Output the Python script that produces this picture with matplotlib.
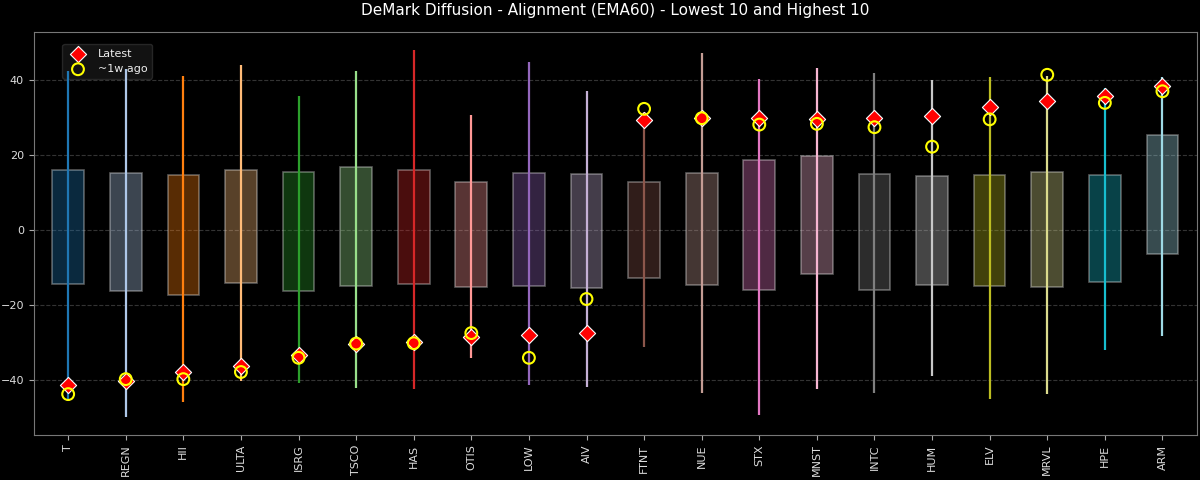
import matplotlib
matplotlib.use("Agg")
import matplotlib.pyplot as plt
import numpy as np

tickers = ["T", "REGN", "HII", "ULTA", "ISRG", "TSCO", "HAS", "OTIS", "LOW", "AIV",
           "FTNT", "NUE", "STX", "MNST", "INTC", "HUM", "ELV", "MRVL", "HPE", "ARM"]
whisker_low = [-45.6, -49.8, -46.0, -40.3, -40.9, -42.2, -42.5, -34.1, -41.3, -41.8,
               -31.1, -43.6, -49.5, -42.5, -43.6, -39.0, -45.0, -43.8, -31.9, -28.3]
whisker_high = [42.4, 43.0, 41.3, 44.1, 35.9, 42.4, 48.0, 30.7, 45.0, 37.1,
                31.5, 47.4, 40.3, 43.4, 42.1, 40.0, 41.0, 41.3, 38.0, 41.0]
box_low = [-14.4, -16.3, -17.2, -14.0, -16.3, -14.8, -14.5, -15.2, -14.8, -15.4,
           -12.7, -14.7, -16.0, -11.8, -15.9, -14.6, -14.8, -15.1, -13.9, -6.4]
box_high = [16.0, 15.4, 14.8, 16.0, 15.6, 16.8, 16.2, 12.9, 15.4, 14.9,
            12.8, 15.3, 18.8, 19.9, 15.1, 14.5, 14.6, 15.5, 14.6, 25.5]
latest = [-41.3, -40.3, -38.0, -36.2, -33.3, -30.4, -30.0, -28.6, -28.1, -27.4,
          29.5, 29.9, 29.9, 29.8, 30.0, 30.6, 33.0, 34.6, 35.8, 38.4]
week_ago = [-43.8, -39.8, -39.8, -37.9, -34.1, -30.3, -30.2, -27.5, -34.1, -18.4,
            32.4, 29.9, 28.2, 28.4, 27.5, 22.3, 29.6, 41.5, 34.0, 37.1]

title = "DeMark Diffusion - Alignment (EMA60) - Lowest 10 and Highest 10"

plt.style.use("dark_background")
fig, ax = plt.subplots(figsize=(12, 4.8), dpi=100)
fig.subplots_adjust(left=0.028, right=0.9975, top=0.933, bottom=0.094)

colors = plt.get_cmap("tab20").colors
x = np.arange(len(tickers))

for i in range(len(tickers)):
    c = colors[i % 20]
    ax.bar(x[i], box_high[i] - box_low[i], bottom=box_low[i], width=0.55,
           color=c, alpha=0.35, edgecolor="white", linewidth=1.2, zorder=2)
    ax.vlines(x[i], whisker_low[i], whisker_high[i], color=c, linewidth=1.6, zorder=3)

ax.scatter(x, latest, marker="D", s=68, color="red", edgecolors="white",
           linewidths=0.8, zorder=5, label="Latest")
ax.scatter(x, week_ago, marker="o", s=72, facecolors="none", edgecolors="yellow",
           linewidths=1.5, zorder=6, label="~1w ago")

ax.set_xlim(-0.6, len(tickers) - 0.4)
ax.set_xticks(x)
ax.set_xticklabels(tickers, rotation=90)
ax.tick_params(axis="both", labelsize=8, labelcolor="#dddddd", color="#aaaaaa")
ax.grid(axis="y", linestyle="--", color="gray", alpha=0.4, linewidth=0.8)
ax.set_axisbelow(True)
for s in ax.spines.values():
    s.set_color("#777777")
ax.set_title(title, fontsize=11, color="white", pad=12)
leg = ax.legend(loc="upper left", fontsize=8, facecolor="#1a1a1a", edgecolor="#333333",
                framealpha=0.7, bbox_to_anchor=(0.02, 0.984))
leg.set_zorder(2.5)
for t in leg.get_texts():
    t.set_color("#eeeeee")

fig.savefig("out.png", dpi=100, facecolor="black")
